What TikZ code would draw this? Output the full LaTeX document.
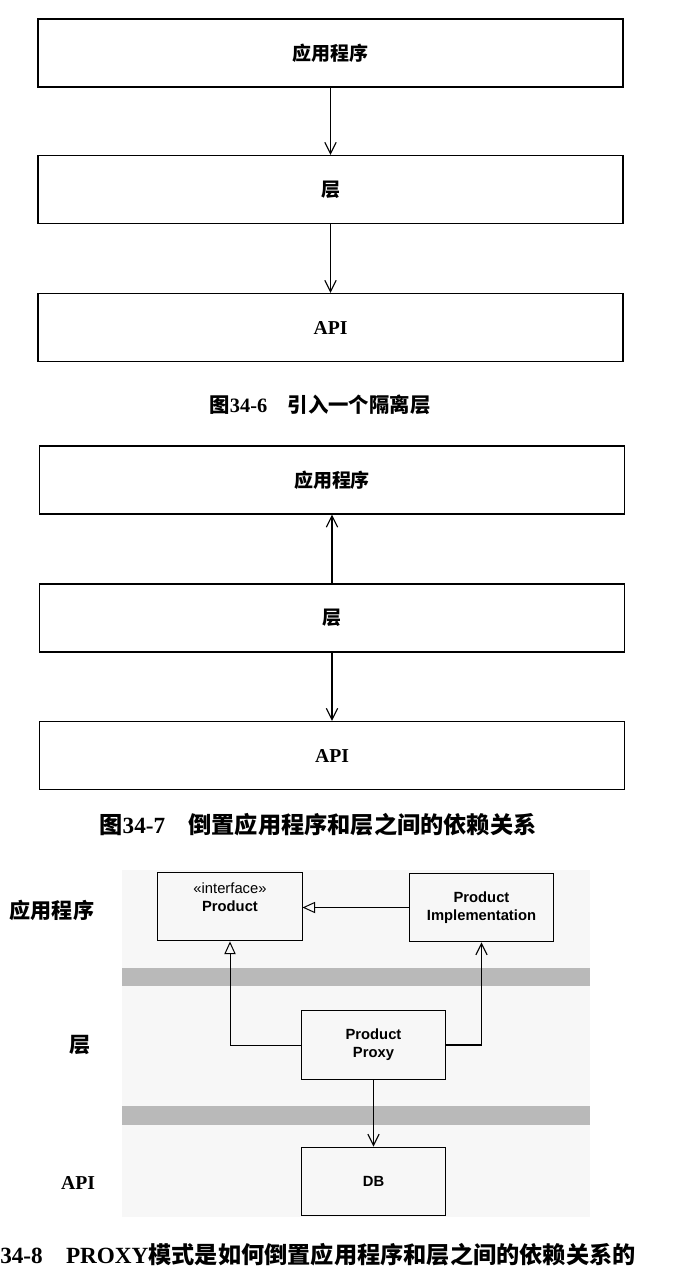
\documentclass[tikz,border=0pt]{standalone}
\usepackage{fontspec}
\setmainfont{Liberation Serif}
\newfontfamily\cjk{Noto Sans CJK SC}
\newfontfamily\helv{Liberation Sans}
\usetikzlibrary{arrows.meta}

\begin{document}
\begin{tikzpicture}[
    x=0.025cm, y=-0.025cm,
    layerbox/.style={draw, line width=1pt, minimum width=14.63cm, minimum height=1.70cm, font=\cjk\bfseries\fontsize{13.5}{16}\selectfont},
    apibox/.style={layerbox, font=\bfseries\fontsize{14}{16}\selectfont},
    umlbox/.style={draw, line width=0.7pt, minimum width=3.6cm, minimum height=1.72cm, align=center, font=\helv\bfseries\fontsize{10.5}{13}\selectfont},
    caption/.style={font=\cjk\bfseries\fontsize{14.5}{17}\selectfont},
    side/.style={font=\cjk\bfseries\fontsize{15}{18}\selectfont},
    dep/.style={-{Straight Barb[length=8pt, width=8pt]}, line width=0.8pt},
    realize/.style={-{Triangle[open, length=9pt, width=8pt]}, line width=0.7pt},
    band/.style={fill=gray!55},
  ]
    \useasboundingbox (0,0) rectangle (678,1278);

    % Fig 34-6: layer between application and API
    \node[layerbox] (app1) at (330.5,53) {应用程序};
    \node[layerbox] (layer1) at (330.5,189.5) {层};
    \node[apibox] (api1) at (330.5,327.5) {API};
    \draw[dep] (app1) -- (layer1);
    \draw[dep] (layer1) -- (api1);
    \node[caption] (cap1) at (320,405) {图{\rmfamily 34-6}\hspace{1em}引入一个隔离层};

    % Fig 34-7: dependency of application inverted
    \node[layerbox] (app2) at (332,480) {应用程序};
    \node[layerbox] (layer2) at (332,618) {层};
    \node[apibox] (api2) at (332,755.5) {API};
    \draw[dep] (layer2) -- (app2);
    \draw[dep] (layer2) -- (api2);
    \node[caption, font=\cjk\bfseries\fontsize{16.5}{19}\selectfont] (cap2) at (318,825) {图{\rmfamily 34-7}\hspace{1em}倒置应用程序和层之间的依赖关系};

    % Fig 34-8: PROXY pattern
    \fill[gray!6] (122,870) rectangle (590,1217);
    \fill[band] (122,968) rectangle (590,986);
    \fill[band] (122,1106) rectangle (590,1125);

    \node[side] (lapp) at (52,910) {应用程序};
    \node[side] (llayer) at (80,1045) {层};
    \node[font=\bfseries\fontsize{14}{16}\selectfont] (lapi) at (78,1183) {API};

    \node[umlbox] (product) at (230,906.5) {{\mdseries «interface»}\\Product\\\mbox{}};
    \node[umlbox] (impl) at (481.5,907.5) {Product\\Implementation};
    \node[umlbox] (proxy) at (373.5,1045) {Product\\Proxy};
    \node[umlbox] (db) at (373.5,1181.5) {DB};

    \draw[realize] (impl.west) -- (impl.west -| product.east);
    \draw[realize] (proxy.west) -| (product.south);
    \draw[dep] (proxy.east) -| (impl.south);
    \draw[dep] (proxy) -- (db);

    \node[caption, font=\cjk\bfseries\fontsize{16.5}{20}\selectfont, anchor=west, inner sep=0pt] (cap3) at (0,1255) {{\rmfamily 34-8\hspace{1em}PROXY}模式是如何倒置应用程序和层之间的依赖关系的};
\end{tikzpicture}
\end{document}
